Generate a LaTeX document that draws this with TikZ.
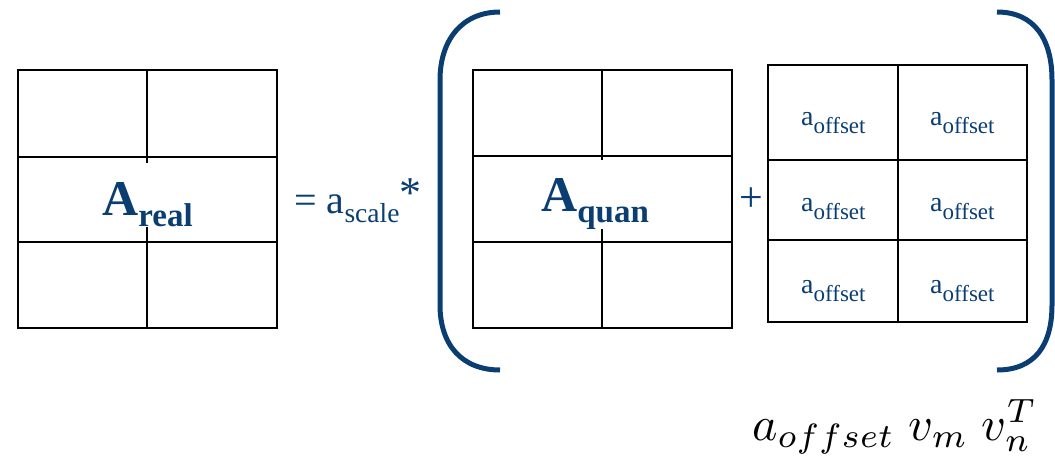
\documentclass[tikz,border=0pt]{standalone}
\usepackage{fontspec}
\setmainfont{Liberation Serif}
\definecolor{bluec}{RGB}{10,62,115}
\tikzset{
  grid/.style={draw=black, line width=2.6pt},
  paren/.style={draw=bluec, line width=5pt},
  lbl/.style={text=bluec, inner sep=0pt, anchor=base west},
}
\newcommand{\fs}[1]{\fontsize{#1}{#1}\selectfont}
\begin{document}
\begin{tikzpicture}[x=1pt,y=-1pt]
\useasboundingbox (0,0) rectangle (1055,459);
% left grid A_real
\draw[grid] (18,70) rectangle (277,328);
\draw[grid] (18,157) -- (277,157);
\draw[grid] (18,242) -- (277,242);
\draw[grid] (147,70) -- (147,163);
\draw[grid] (147,227) -- (147,328);
\node[lbl] (areal) at (102,215) {\fs{50}\bfseries A\raisebox{-11pt}{\fs{33}real}};
% = a_scale *
\node[lbl] (eq) at (294,213) {\fs{40}= a\raisebox{-9pt}{\fs{27.5}scale}\raisebox{6pt}{\fs{44}*}};
% parens
\draw[paren] (500,12) .. controls (462,12) and (440,40) .. (440,80) -- (440,305) .. controls (440,345) and (462,370) .. (500,370);
\draw[paren] (997,12) .. controls (1035,12) and (1052,40) .. (1052,80) -- (1052,305) .. controls (1052,345) and (1035,370) .. (997,370);
% A_quan grid
\draw[grid] (473,70) rectangle (732,328);
\draw[grid] (473,156) -- (732,156);
\draw[grid] (473,242) -- (732,242);
\draw[grid] (602,70) -- (602,160);
\draw[grid] (602,229) -- (602,328);
\node[lbl] (aquan) at (541,211) {\fs{50}\bfseries A\raisebox{-11pt}{\fs{33}quan}};
% plus
\node[text=bluec, inner sep=0pt] (plus) at (751,200) {\fs{42}+};
% offset grid
\draw[grid] (768,65) rectangle (1027,322);
\draw[grid] (768,160) -- (1027,160);
\draw[grid] (768,240) -- (1027,240);
\draw[grid] (898,65) -- (898,322);
\foreach \yy [count=\i] in {125,211.5,293}{
  \node[lbl] (o\i a) at (801,\yy) {\fs{28}a\raisebox{-8pt}{\fs{23}offset}};
  \node[lbl] (o\i b) at (930,\yy) {\fs{28}a\raisebox{-8pt}{\fs{23}offset}};
}
% formula
\node[inner sep=0pt, anchor=base west] (form) at (752,440) {\resizebox{285pt}{!}{$a_{offset}\;v_m\;v_n^T$}};
\end{tikzpicture}
\end{document}
